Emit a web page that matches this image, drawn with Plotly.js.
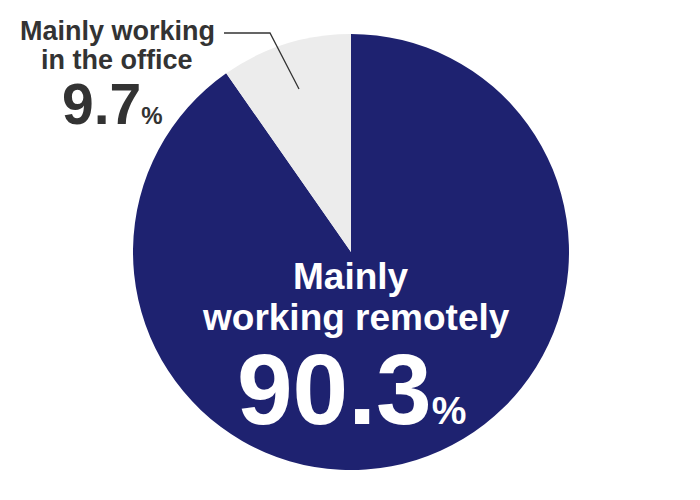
<!DOCTYPE html>
<html>
<head>
<meta charset="utf-8">
<script src="https://cdn.plot.ly/plotly-3.0.1.min.js"></script>
<style>
  html, body { margin: 0; padding: 0; background: #fff; }
  #chart { width: 700px; height: 500px; }
</style>
</head>
<body>
<div id="chart"></div>
<script>
// share of work style (percent)
const labels = ['Mainly working remotely', 'Mainly working in the office'];
const values = [90.3, 9.7];
const colors = ['#1e2270', '#ececec'];

const W = 700, H = 500;
const px = (x) => x / W;
const py = (y) => 1 - y / H;
const font = 'Liberation Sans, Arial, sans-serif';

const pct = (v, big, small) =>
  '<span style="font-size:' + big + 'px">' + v.toFixed(1) + '</span>' +
  '<span style="font-size:' + small + 'px">%</span>';

const trace = {
  type: 'pie',
  labels: labels,
  values: values,
  marker: { colors: colors, line: { width: 0 } },
  sort: false,
  direction: 'clockwise',
  rotation: 0,
  textinfo: 'none',
  hoverinfo: 'none',
  showlegend: false,
  domain: { x: [px(133), px(569)], y: [py(470), py(34)] }
};

function note(text, x, y, size, color) {
  return {
    text: text, xref: 'paper', yref: 'paper', x: px(x), y: py(y),
    xanchor: 'center', yanchor: 'middle', showarrow: false,
    font: { family: font, size: size, color: color, weight: 'bold' }
  };
}

const layout = {
  width: W, height: H,
  margin: { l: 0, r: 0, t: 0, b: 0 },
  paper_bgcolor: '#fff',
  annotations: [
    note('Mainly working', 117, 31, 27, '#333'),
    note('in the office', 117, 60, 27, '#333'),
    note(pct(values[1], 57, 24), 112, 104, 57, '#333'),
    note('Mainly', 351, 276, 37, '#fff'),
    note('working remotely', 356, 317, 37, '#fff'),
    note(pct(values[0], 100, 39), 351, 389, 100, '#fff')
  ],
  shapes: [{
    type: 'path', xref: 'paper', yref: 'paper',
    path: 'M ' + px(224) + ' ' + py(33) + ' L ' + px(270) + ' ' + py(33) +
          ' L ' + px(299) + ' ' + py(89),
    line: { color: '#333', width: 1.3 }
  }]
};

Plotly.newPlot('chart', [trace], layout, { staticPlot: true });
</script>
</body>
</html>
